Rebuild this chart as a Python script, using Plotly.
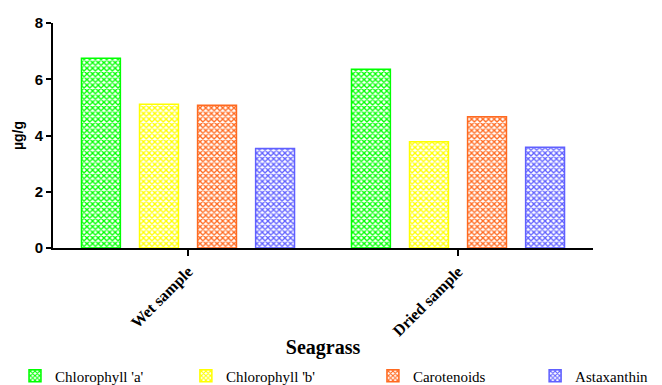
import plotly.graph_objects as go

categories = ["Wet sample", "Dried sample"]
series_names = ["Chlorophyll 'a'", "Chlorophyll 'b'", "Carotenoids", "Astaxanthin"]
chl_a = [6.75, 6.36]
chl_b = [5.11, 3.78]
carotenoids = [5.08, 4.67]
astaxanthin = [3.54, 3.58]
y_ticks = [0, 2, 4, 6, 8]

values = [chl_a, chl_b, carotenoids, astaxanthin]
colors = ["#00FF00", "#FFFF00", "#FF6A20", "#6060FF"]
legend_ids = ["legend", "legend2", "legend3", "legend4"]
legend_x = [0.0107, 0.272, 0.558, 0.806]

SERIF = "Liberation Serif, Times New Roman, serif"
SANS = "Liberation Sans, Arial, sans-serif"

fig = go.Figure()
for name, vals, c, lid in zip(series_names, values, colors, legend_ids):
    fig.add_trace(go.Bar(
        x=categories, y=vals, name=name, legend=lid,
        marker=dict(color="white",
                    line=dict(color=c, width=1.5),
                    pattern=dict(shape="x", fgcolor=c, bgcolor="white",
                                 size=4, solidity=0.55, fillmode="replace")),
    ))

legend_common = dict(orientation="h", xanchor="left", xref="container",
                     y=0.024, yanchor="middle", yref="container",
                     font=dict(family=SERIF, size=15, color="black"),
                     itemwidth=30, bgcolor="rgba(0,0,0,0)")

fig.update_layout(
    width=654, height=377,
    margin=dict(l=45, r=69, t=15, b=137, autoexpand=False),
    plot_bgcolor="white", paper_bgcolor="white",
    barmode="group", bargap=0.14, bargroupgap=0.33,
    showlegend=True,
    xaxis=dict(
        range=[-0.5, 1.5], showline=True, linecolor="black", linewidth=2,
        ticks="outside", ticklen=6, tickwidth=2, tickcolor="black", automargin=False,
        tickangle=-45, tickfont=dict(family=SERIF, size=16, color="black", weight="bold"),
        title=dict(text="<b>Seagrass</b>", font=dict(family=SERIF, size=20, color="black"), standoff=20),
        showgrid=False, zeroline=False,
    ),
    yaxis=dict(
        range=[0, 8], tickvals=y_ticks, showline=True, linecolor="black", linewidth=2,
        ticks="outside", ticklen=5, tickwidth=2, tickcolor="black", automargin=False,
        tickfont=dict(family=SANS, size=15, color="black", weight="bold"),
        title=dict(text="<b>µg/g</b>", font=dict(family=SANS, size=14, color="black"), standoff=8),
        showgrid=False, zeroline=False,
    ),
)
for lid, lx in zip(legend_ids, legend_x):
    fig.update_layout({lid: dict(legend_common, x=lx)})

fig.write_html("out.html")
